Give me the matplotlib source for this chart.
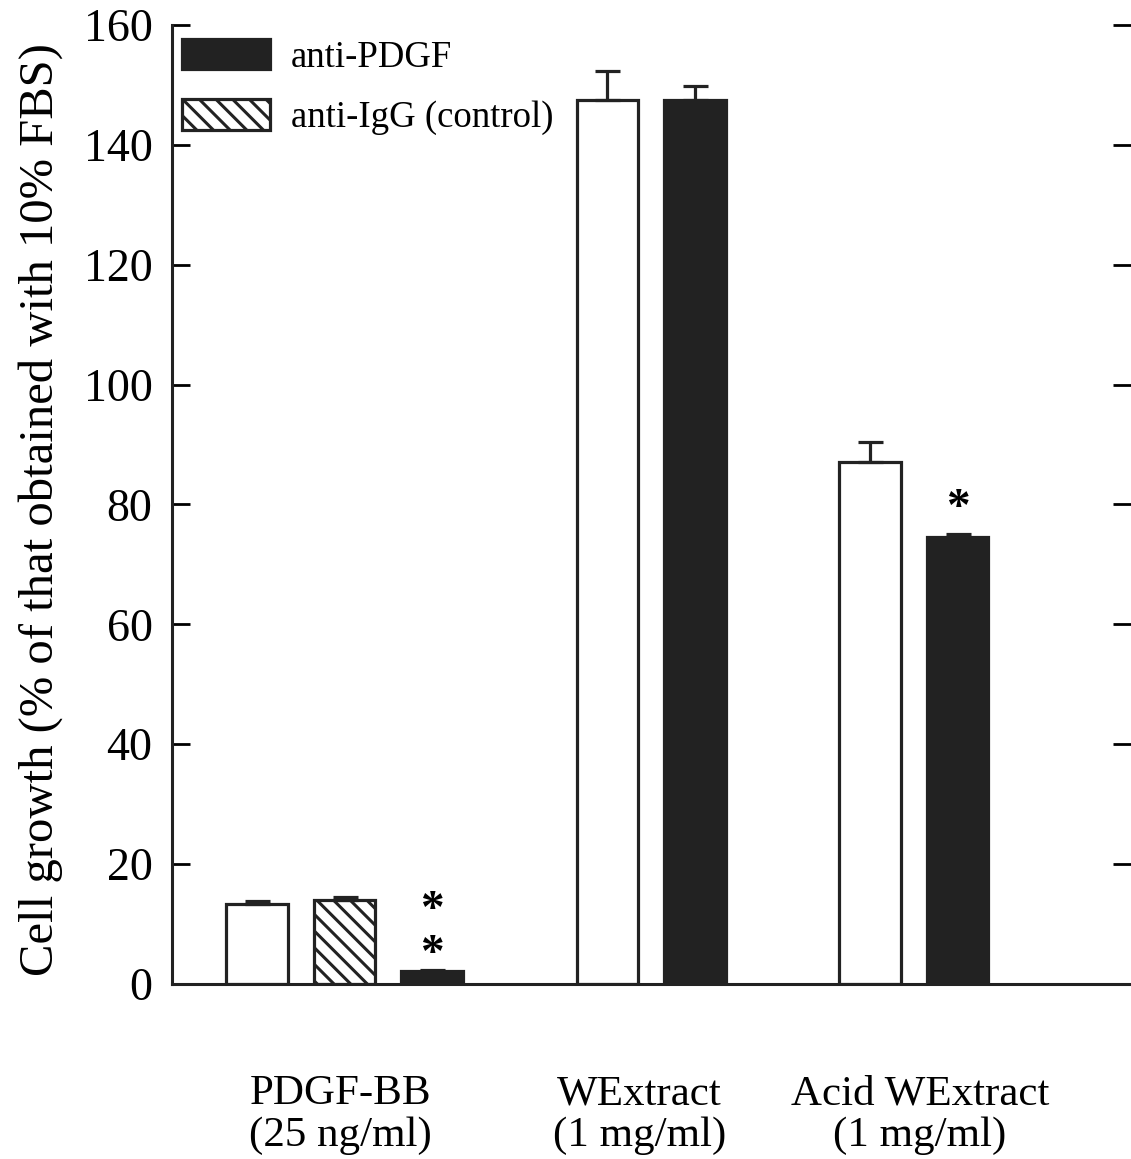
import matplotlib
matplotlib.use("Agg")
import matplotlib.pyplot as plt
from matplotlib.patches import Patch

plt.rcParams['font.family'] = ['Liberation Serif', 'DejaVu Serif']
plt.rcParams['hatch.linewidth'] = 2.2

# data
groups = ["PDGF-BB\n(25 ng/ml)", "WExtract\n(1 mg/ml)", "Acid WExtract\n(1 mg/ml)"]
group_values = [[13.3, 14.0, 2.1], [147.5, 147.5], [87.0, 74.5]]
group_errors = [[0.5, 0.5, 0.3], [4.8, 2.3], [3.4, 0.5]]
group_fills = [["none", "control", "anti"], ["none", "anti"], ["none", "anti"]]
group_stars = [[None, None, "two"], [None, None], [None, "one"]]
legend_labels = ["anti-PDGF", "anti-IgG (control)"]
yticks = [0, 20, 40, 60, 80, 100, 120, 140, 160]

fig = plt.figure(figsize=(11.31, 11.59), dpi=100)
ax = fig.add_axes([0.1521, 0.151, 0.8479, 0.8275])

lw = 2.3
pos = 1
for vals, errs, fills, stars in zip(group_values, group_errors, group_fills, group_stars):
    for v, e, f, s in zip(vals, errs, fills, stars):
        if f == "anti":
            fc, hatch = "#222222", None
        elif f == "control":
            fc, hatch = "white", "\\\\"
        else:
            fc, hatch = "white", None
        ax.bar(pos, v, width=0.7, color=fc, edgecolor="#222222", linewidth=lw,
               hatch=hatch, zorder=2)
        ax.errorbar(pos, v, yerr=[[0], [e]], fmt="none", ecolor="#222222",
                    elinewidth=lw, capsize=9, capthick=lw, zorder=3)
        if s == "one":
            ax.text(pos, v + e + 4.3, "*", ha="center", va="center", fontsize=34,
                    fontweight="bold")
        elif s == "two":
            ax.text(pos, v + 2.8, "*", ha="center", va="center", fontsize=34,
                    fontweight="bold")
            ax.text(pos, v + 10.0, "*", ha="center", va="center", fontsize=34,
                    fontweight="bold")
        pos += 1
    pos += 1

# group labels (slightly off-centre like the original)
label_pos = [1.95, 5.37, 8.57]
for lx, g in zip(label_pos, groups):
    ax.text(lx, -21.8, g, ha="center", va="center", fontsize=31,
            linespacing=1.1, clip_on=False)

ax.set_xlim(0.03, 10.98)
ax.set_ylim(0, 160)
ax.set_yticks(yticks)
ax.set_xticks([])
ax.tick_params(axis="y", direction="in", length=13, width=2, labelsize=33,
               pad=14, right=True, labelright=False)
for sp in ["top", "right"]:
    ax.spines[sp].set_visible(False)
for sp in ["left", "bottom"]:
    ax.spines[sp].set_linewidth(2.2)
    ax.spines[sp].set_color("#222222")

fig.text(0.036, 0.56, "Cell growth (% of that obtained with 10% FBS)",
         rotation=90, ha="center", va="center", fontsize=35)

handles = [Patch(facecolor="#222222", edgecolor="#222222", linewidth=lw),
           Patch(facecolor="white", edgecolor="#222222", linewidth=lw, hatch="\\\\")]
ax.legend(handles, legend_labels, loc="upper left", bbox_to_anchor=(0.0, 0.996),
          frameon=False, fontsize=26.5, handlelength=2.4, handleheight=0.9,
          labelspacing=0.66, handletextpad=0.55, borderaxespad=0.0,
          borderpad=0.27)

fig.savefig("out.png", dpi=100)
